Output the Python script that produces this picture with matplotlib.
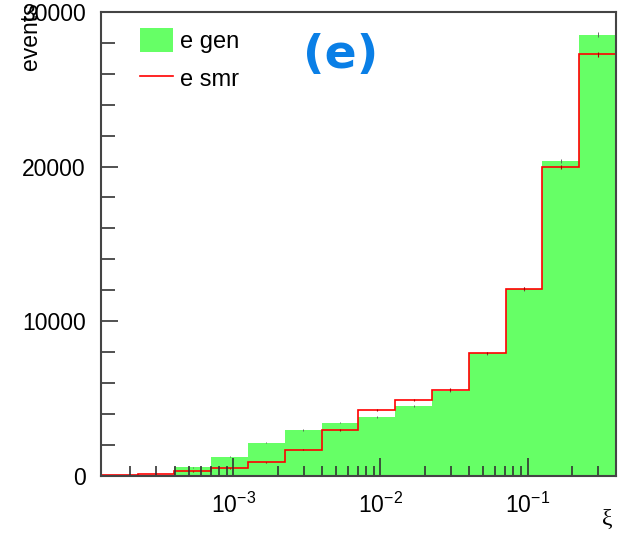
import matplotlib
matplotlib.use('Agg')
import matplotlib.pyplot as plt
import numpy as np
from matplotlib.patches import Patch
from matplotlib.lines import Line2D
from matplotlib.ticker import LogLocator, MultipleLocator

plt.rcParams['font.family'] = ['Liberation Sans', 'DejaVu Sans']
plt.rcParams['mathtext.fontset'] = 'custom'
plt.rcParams['mathtext.rm'] = 'Liberation Sans'
plt.rcParams['mathtext.it'] = 'Liberation Sans:italic'

# bin edges in log10(xi)
edge_exp = [-3.9, -3.65, -3.4, -3.15, -2.9, -2.65, -2.4, -2.15,
            -1.9, -1.65, -1.4, -1.15, -0.9, -0.65, -0.4]
# events per bin
gen = [10, 60, 560, 1250, 2150, 2970, 3450, 3830,
       4540, 5470, 7930, 12080, 20360, 28530]
smr = [80, 150, 300, 500, 890, 1700, 2970, 4270,
       4890, 5580, 7950, 12110, 19990, 27260]

edges = 10.0 ** np.array(edge_exp)
centers = np.sqrt(edges[:-1] * edges[1:])

fig = plt.figure(figsize=(6.19, 5.39), dpi=100)
ax = fig.add_axes([0.163, 0.117, 0.832, 0.861])

green = '#66ff66'
ax.stairs(gen, edges, fill=True, color=green, baseline=0)
ax.errorbar(centers, gen, yerr=np.sqrt(gen), fmt='none', ecolor='#555555', elinewidth=0.6)
ax.stairs(smr, edges, color='red', linewidth=1.2, baseline=None)
ax.errorbar(centers, smr, yerr=np.sqrt(smr), fmt='none', ecolor='#aa0000', elinewidth=0.8)

ax.set_xscale('log')
ax.set_xlim(edges[0], edges[-1])
ax.set_ylim(0, 30000)

ax.xaxis.set_major_locator(LogLocator(base=10))
ax.xaxis.set_minor_locator(LogLocator(base=10, subs=np.arange(2, 10)))
ax.yaxis.set_major_locator(MultipleLocator(10000))
ax.yaxis.set_minor_locator(MultipleLocator(2000))
ax.tick_params(axis='both', which='both', direction='in', top=False, right=False,
               labelsize=16.5, color='#333333')
ax.tick_params(axis='x', which='major', length=13, width=1.2, pad=12)
ax.tick_params(axis='x', which='minor', length=7, width=1.2)
ax.tick_params(axis='y', which='major', length=12, width=1.2, pad=11)
ax.tick_params(axis='y', which='minor', length=10, width=1.2)

for s in ax.spines.values():
    s.set_color('#444444')
    s.set_linewidth(1.5)

handles = [Patch(facecolor=green, edgecolor='none'),
           Line2D([0], [0], color='red', linewidth=1.2)]
ax.legend(handles, ['e gen', 'e smr'], loc='upper left', bbox_to_anchor=(0.035, 1.01),
          frameon=False, fontsize=17, handlelength=1.4, handleheight=1.15,
          handletextpad=0.3, labelspacing=0.55)

ax.text(0.466, 0.905, '(e)', transform=ax.transAxes, fontsize=34, fontweight='bold',
        color='#0a7fe6', family='DejaVu Sans', ha='center', va='center')

fig.text(0.05, 0.995, 'events', rotation=90, ha='center', va='top', fontsize=16.5)
fig.text(0.99, 0.036, 'ξ', ha='right', va='center', fontsize=17, family='Liberation Serif')

fig.savefig('out.png', dpi=100)
